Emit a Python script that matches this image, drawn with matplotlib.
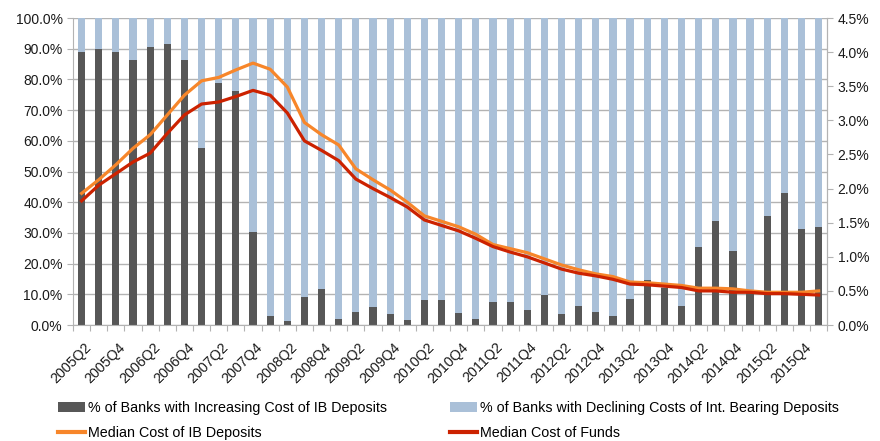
import numpy as np
import matplotlib
matplotlib.use("Agg")
import matplotlib.pyplot as plt
from matplotlib.ticker import FuncFormatter, FixedLocator
from matplotlib.patches import Patch
from matplotlib.lines import Line2D

plt.rcParams['font.family'] = ['Liberation Sans', 'DejaVu Sans']

# quarterly series, 2005Q2 .. 2016Q1
quarters = [f"{y}Q{q}" for y in range(2005, 2017) for q in range(1, 5)][1:45]

pct_increasing = [88.8, 89.8, 88.8, 86.5, 90.7, 91.6, 86.5, 57.7, 79.0, 76.3,
                  30.2, 3.0, 1.2, 9.1, 11.7, 2.0, 4.3, 5.9, 3.5, 1.6,
                  8.1, 8.1, 3.9, 2.0, 7.6, 7.6, 4.9, 9.9, 3.5, 6.3,
                  4.3, 3.0, 8.5, 14.7, 12.0, 6.2, 25.5, 33.9, 24.1, 11.5,
                  35.5, 43.1, 31.4, 31.9]
pct_declining = [100 - v for v in pct_increasing]

median_ib_deposits = [1.93, 2.13, 2.35, 2.59, 2.79, 3.08, 3.37, 3.58, 3.63, 3.74,
                      3.84, 3.75, 3.49, 2.97, 2.79, 2.64, 2.29, 2.13, 1.98, 1.80,
                      1.60, 1.52, 1.44, 1.33, 1.18, 1.12, 1.06, 0.97, 0.88, 0.81,
                      0.75, 0.71, 0.63, 0.62, 0.60, 0.58, 0.54, 0.54, 0.53, 0.50,
                      0.48, 0.48, 0.48, 0.50]
median_cost_funds = [1.82, 2.05, 2.22, 2.39, 2.52, 2.81, 3.08, 3.24, 3.27, 3.35,
                     3.44, 3.37, 3.11, 2.70, 2.56, 2.41, 2.14, 2.00, 1.87, 1.73,
                     1.54, 1.46, 1.38, 1.27, 1.15, 1.07, 1.00, 0.91, 0.82, 0.76,
                     0.72, 0.67, 0.60, 0.59, 0.57, 0.55, 0.50, 0.50, 0.48, 0.48,
                     0.46, 0.46, 0.45, 0.44]

dark = '#575757'
light = '#aac0d8'
orange = '#f7862a'
red = '#cc2200'
grid = '#b3b3b3'
txt = '#1a1a1a'

x = np.arange(len(quarters))

fig = plt.figure(figsize=(8.8, 4.41), dpi=100)
ax = fig.add_axes([0.083, 0.263, 0.857, 0.696])

ax.bar(x, pct_increasing, width=0.42, color=dark, zorder=2)
ax.bar(x, pct_declining, width=0.42, bottom=pct_increasing, color=light, zorder=2)

ax.set_xlim(-0.5, len(x) - 0.5)
ax.set_ylim(0, 100)
ax.set_yticks(np.arange(0, 101, 10))
ax.yaxis.set_major_formatter(FuncFormatter(lambda v, p: f"{v:.1f}%"))
ax.grid(axis='y', color=grid, linewidth=1.0, zorder=0)
ax.set_axisbelow(True)

# tick marks sit between quarters, labels on every other quarter
ax.xaxis.set_major_locator(FixedLocator(np.arange(-0.5, len(x), 1.0)))
ax.xaxis.set_major_formatter(FuncFormatter(lambda v, p: ""))
ax.xaxis.set_minor_locator(FixedLocator(x[::2] + 0.15))
ax.set_xticklabels([quarters[i] for i in x[::2]], minor=True)
ax.tick_params(axis='x', which='minor', length=0, pad=11)
for lab in ax.get_xticklabels(minor=True):
    lab.set_rotation(45)
    lab.set_ha('right')
    lab.set_rotation_mode('anchor')

ax.spines['top'].set_visible(False)
for s in ['left', 'bottom', 'right']:
    ax.spines[s].set_color(grid)
ax.tick_params(axis='both', which='major', colors=grid, length=4, labelsize=10,
               labelcolor=txt)
ax.tick_params(axis='x', which='minor', labelsize=10.3, labelcolor=txt)

ax2 = ax.twinx()
ax2.plot(x, median_ib_deposits, color=orange, linewidth=2.3, zorder=3)
ax2.plot(x, median_cost_funds, color=red, linewidth=2.3, zorder=3)
ax2.set_ylim(0, 4.5)
ax2.set_yticks(np.arange(0, 4.51, 0.5))
ax2.yaxis.set_major_formatter(FuncFormatter(lambda v, p: f"{v:.1f}%"))
for s in ['top', 'left', 'bottom']:
    ax2.spines[s].set_visible(False)
ax2.spines['right'].set_color(grid)
ax2.tick_params(axis='y', colors=grid, length=4, labelsize=10, labelcolor=txt)

handles = [
    Patch(facecolor=dark, label='% of Banks with Increasing Cost of IB Deposits'),
    Line2D([], [], color=orange, linewidth=3, label='Median Cost of IB Deposits'),
    Patch(facecolor=light, label='% of Banks with Declining Costs of Int. Bearing Deposits'),
    Line2D([], [], color=red, linewidth=3, label='Median Cost of Funds'),
]
fig.legend(handles=handles, ncol=2, loc='upper left', bbox_to_anchor=(0.066, 0.091),
           frameon=False, fontsize=10.3, handlelength=1.9, handletextpad=0.2,
           columnspacing=4.4, labelspacing=0.75, borderaxespad=0, borderpad=0)

fig.savefig('out.png', dpi=100)
